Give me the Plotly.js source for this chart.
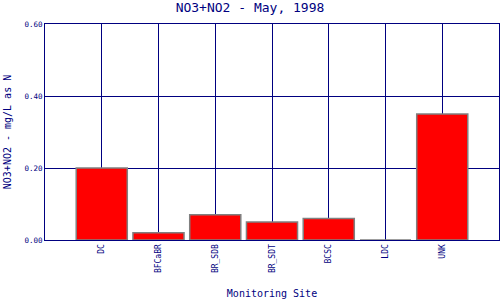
<!DOCTYPE html>
<html><head><meta charset="utf-8">
<script src="https://cdn.plot.ly/plotly-3.0.1.min.js"></script>
<style>html,body{margin:0;padding:0;background:#fff}</style>
</head><body>
<div id="chart" style="width:500px;height:300px"></div>
<script>
const sites = ["DC", "BFCaBR", "BR_SDB", "BR_SDT", "BCSC", "LDC", "UNK"];
const values = [0.20, 0.02, 0.07, 0.05, 0.06, 0.0, 0.35];
const yTicks = [0, 0.2, 0.4, 0.6];
const yTickText = ["0.00", "0.20", "0.40", "0.60"];

const navy = "#000080";
const trace = {
  type: "bar",
  x: sites.map((s, i) => i),
  y: values,
  width: 0.9,
  marker: {color: "#ff0000", line: {color: "#808080", width: 1.5}},
  hoverinfo: "none"
};
const layout = {
  width: 500, height: 300,
  margin: {l: 45, r: 1, t: 24, b: 60},
  paper_bgcolor: "#fff", plot_bgcolor: "#fff",
  showlegend: false,
  title: {text: "NO3+NO2 - May, 1998", x: 0.5, xanchor: "center", y: 0.99, yanchor: "top",
          font: {family: "DejaVu Sans Mono", size: 13, color: navy}},
  xaxis: {
    range: [-1, 7],
    tickmode: "array",
    tickvals: sites.map((s, i) => i),
    ticktext: sites,
    tickangle: -90,
    tickfont: {family: "DejaVu Sans Mono", size: 8, color: navy},
    showgrid: true, gridcolor: navy, gridwidth: 1,
    zeroline: false,
    showline: true, linecolor: navy, linewidth: 1, mirror: true,
    ticks: "",
    title: {text: "Monitoring Site", font: {family: "DejaVu Sans Mono", size: 10, color: navy}, standoff: 17}
  },
  yaxis: {
    range: [0, 0.6],
    tickmode: "array",
    tickvals: yTicks,
    ticktext: yTickText,
    tickfont: {family: "DejaVu Sans Mono", size: 7.5, color: navy},
    showgrid: true, gridcolor: navy, gridwidth: 1,
    zeroline: false,
    showline: true, linecolor: navy, linewidth: 1, mirror: true,
    ticks: "",
    title: {text: "NO3+NO2 - mg/L as N", font: {family: "DejaVu Sans Mono", size: 10, color: navy}, standoff: 10}
  }
};
Plotly.newPlot("chart", [trace], layout, {displayModeBar: false, staticPlot: true});
</script>
</body></html>
